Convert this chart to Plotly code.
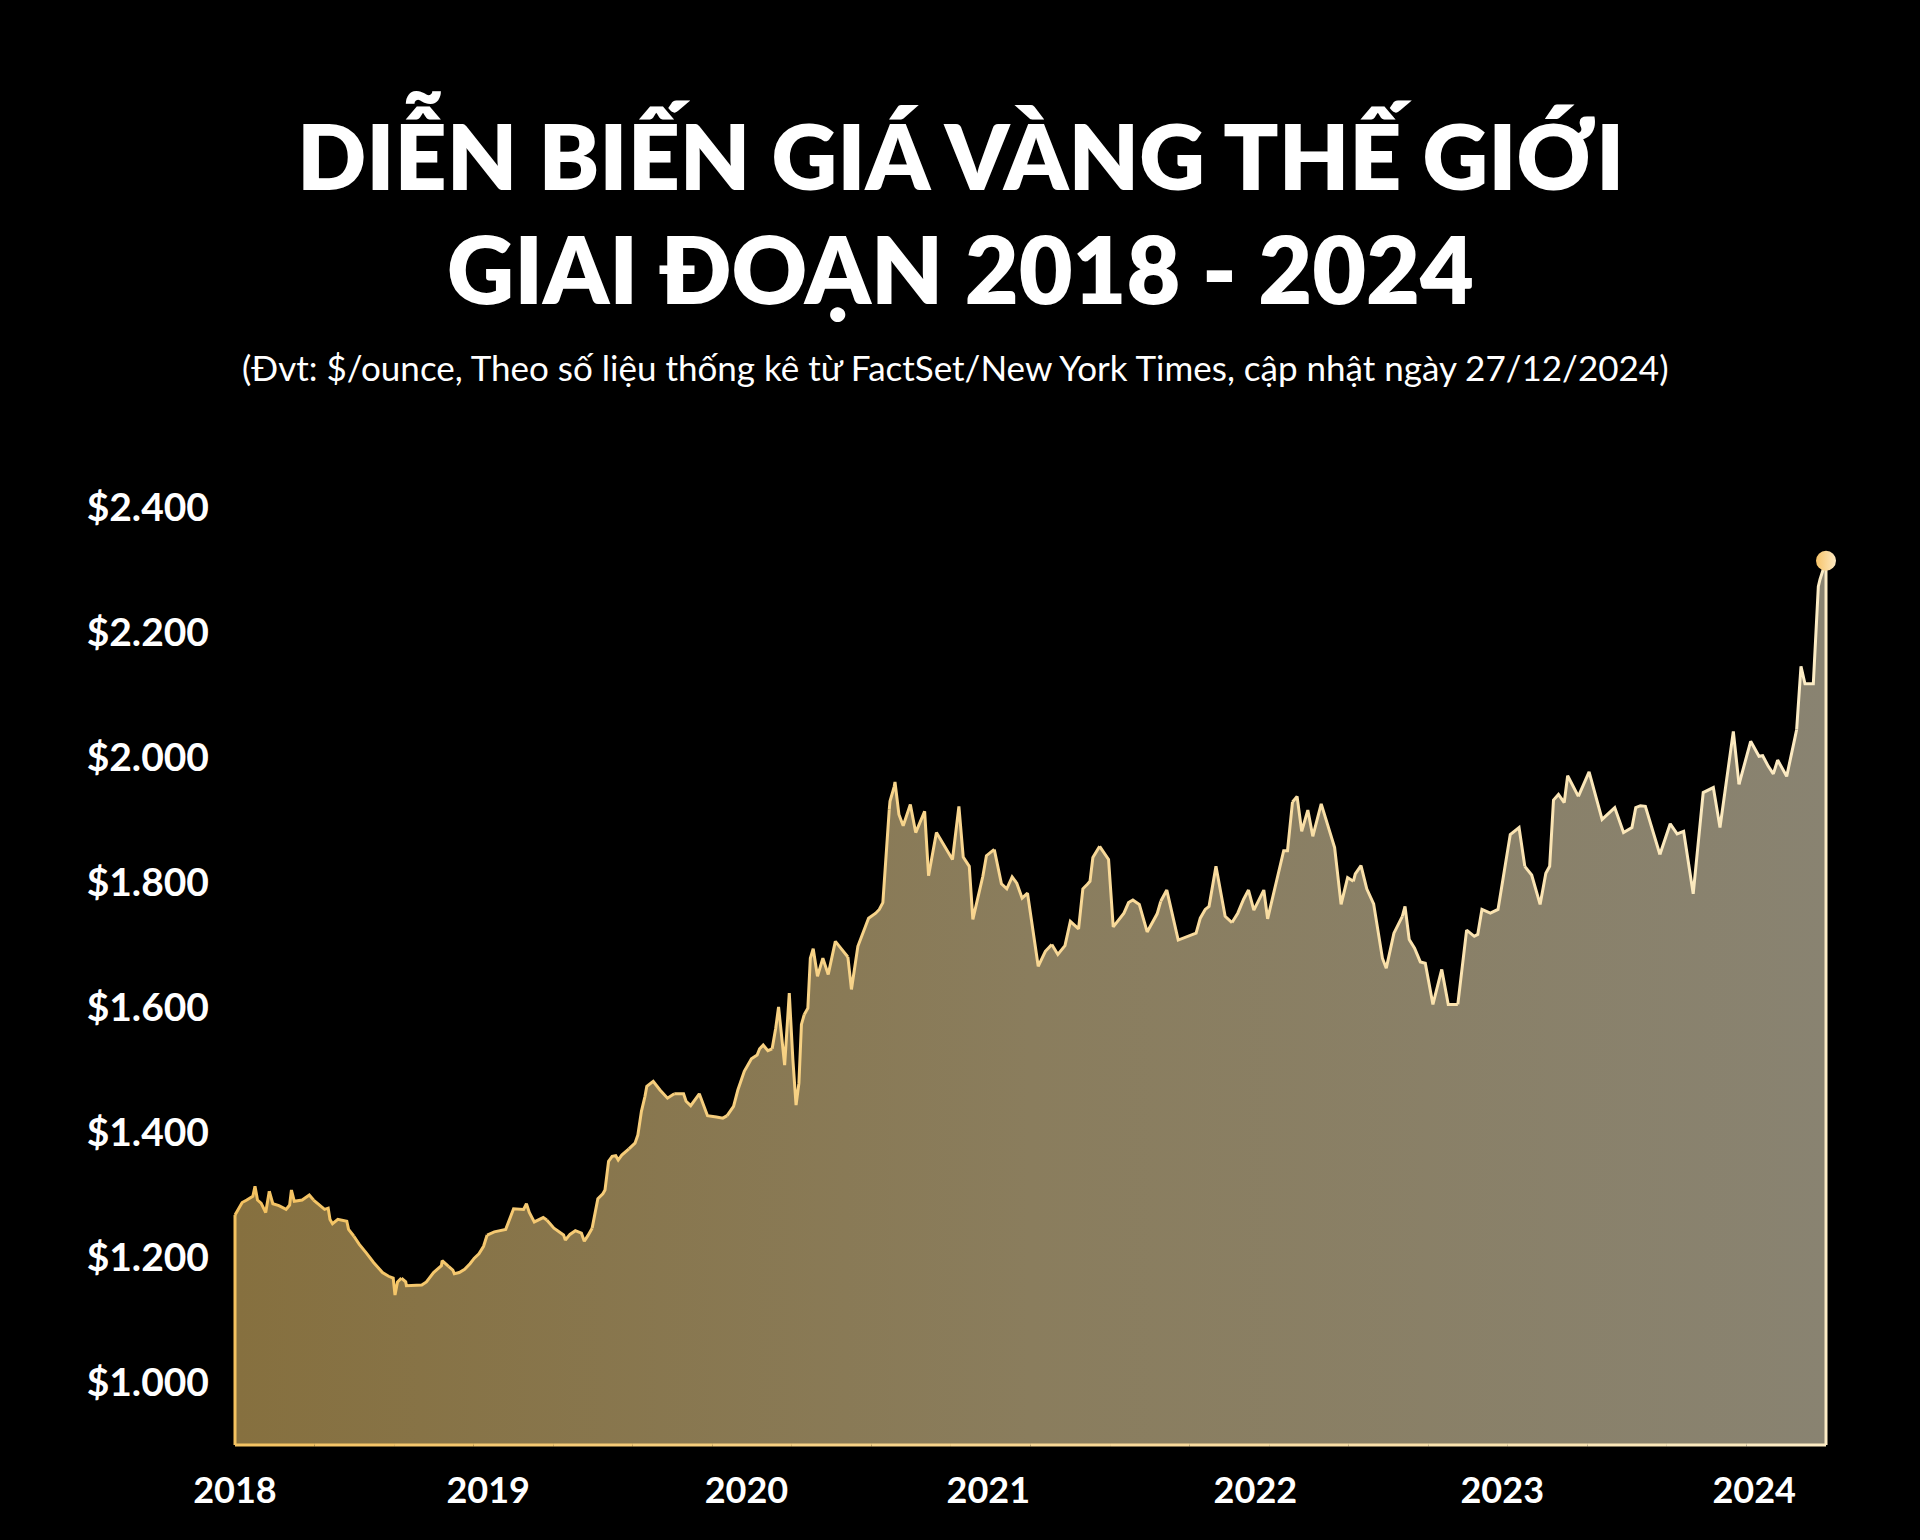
import plotly.graph_objects as go

# ---------------- data ----------------
years_since_2018 = [
    0.0000, 0.0113, 0.0282, 0.0466, 0.0705, 0.0790, 0.0889, 0.1030, 0.1213, 0.1354,
    0.1495, 0.1735, 0.2017, 0.2158, 0.2229, 0.2342, 0.2652, 0.2934, 0.3103, 0.3357,
    0.3540, 0.3681, 0.3752, 0.3851, 0.4062, 0.4415, 0.4485, 0.4697, 0.4909, 0.5191,
    0.5473, 0.5825, 0.6065, 0.6248, 0.6319, 0.6418, 0.6573, 0.6742, 0.6770, 0.7024,
    0.7377, 0.7560, 0.7842, 0.8153, 0.8181, 0.8435, 0.8604, 0.8661, 0.8858, 0.9069,
    0.9281, 0.9451, 0.9634, 0.9817, 0.9958, 1.0240, 1.0692, 1.1002, 1.1397, 1.1510,
    1.1623, 1.1820, 1.2173, 1.2314, 1.2596, 1.2977, 1.3047, 1.3230, 1.3442, 1.3682,
    1.3795, 1.3936, 1.4105, 1.4331, 1.4528, 1.4613, 1.4754, 1.4895, 1.5036, 1.5135,
    1.5276, 1.5558, 1.5798, 1.5911, 1.6052, 1.6193, 1.6264, 1.6517, 1.6785, 1.7081,
    1.7349, 1.7716, 1.7815, 1.7998, 1.8337, 1.8520, 1.8661, 1.9014, 1.9268, 1.9437,
    1.9691, 1.9860,
    2.0114, 2.0396, 2.0622, 2.0720, 2.0861, 2.1045, 2.1214, 2.1355, 2.1468, 2.1708,
    2.1891, 2.2032, 2.2159, 2.2272, 2.2371, 2.2484, 2.2625, 2.2723, 2.2836, 2.3005,
    2.3217, 2.3429, 2.3711, 2.3965, 2.4205, 2.4346, 2.4600, 2.4853, 2.5023, 2.5305,
    2.5446, 2.5587, 2.5699, 2.5840, 2.5869, 2.6038, 2.6066, 2.6221, 2.6390, 2.6672,
    2.6884, 2.7237, 2.7392, 2.7703, 2.8337, 2.8590, 2.8760, 2.9000, 2.9141, 2.9536,
    2.9677, 2.9988, 3.0270, 3.0481, 3.0693, 3.0876, 3.1088, 3.1300, 3.1722, 3.2005,
    3.2259, 3.2498, 3.2780, 3.2992, 3.3316, 3.3486, 3.3655, 3.3768, 3.3881, 3.4149,
    3.4501, 3.4685, 3.5108, 3.5291, 3.5461, 3.5715, 3.6025, 3.6420, 3.6561, 3.6801,
    3.7252, 3.7958,
    3.8123, 3.8319, 3.8470, 3.8743, 3.9105, 3.9377, 3.9604, 3.9831, 4.0027, 4.0239,
    4.0632, 4.0783, 4.1418, 4.1569, 4.1766, 4.1947, 4.2129, 4.2371, 4.2567, 4.2900,
    4.3429, 4.3685, 4.3942, 4.4169, 4.4245, 4.4471, 4.4698, 4.4970, 4.5227, 4.5317,
    4.5469, 4.5771, 4.6103, 4.6209, 4.6375, 4.6587, 4.6813, 4.7010, 4.7312, 4.7660,
    4.7917, 4.8295, 4.8642, 4.8945, 4.9081, 4.9247, 4.9580, 4.9882, 5.0366, 5.0713,
    5.0940, 5.1212, 5.1545, 5.1771, 5.1922, 5.2074, 5.2270, 5.2497, 5.2633, 5.3056,
    5.3479, 5.3993, 5.4492, 5.4840, 5.5172, 5.5323, 5.5505, 5.5702, 5.6276, 5.6684,
    5.6956, 5.7213, 5.7591,
    5.7986, 5.8386, 5.8649, 5.9176, 5.9400, 5.9861, 6.0190, 6.0335, 6.0558, 6.0756,
    6.0927, 6.1283, 6.1611, 6.1677, 6.1848, 6.2006, 6.2335, 6.2533, 6.2599, 6.2836,
]

price_usd = [
    1268, 1276, 1288, 1292, 1298, 1314, 1292, 1287, 1272, 1306,
    1286, 1283, 1277, 1284, 1308, 1290, 1292, 1300, 1292, 1283,
    1277, 1279, 1261, 1254, 1261, 1258, 1245, 1234, 1221, 1207,
    1192, 1176, 1170, 1167, 1140, 1161, 1167, 1161, 1155, 1155,
    1156, 1161, 1176, 1187, 1195, 1186, 1180, 1174, 1176, 1181,
    1190, 1199, 1206, 1218, 1236, 1241, 1245, 1278, 1277, 1286,
    1272, 1257, 1264, 1260, 1247, 1236, 1228, 1237, 1243, 1239,
    1226, 1235, 1247, 1294, 1302, 1308, 1354, 1362, 1363, 1356,
    1364, 1374, 1383, 1396, 1434, 1458, 1474, 1482, 1468, 1455,
    1462, 1462, 1450, 1443, 1462, 1442, 1427, 1425, 1423, 1427,
    1442, 1468,
    1498, 1518, 1524, 1534, 1540, 1531, 1534, 1567, 1601, 1508,
    1623, 1517, 1444, 1479, 1573, 1589, 1599, 1679, 1694, 1650,
    1679, 1653, 1706, 1693, 1681, 1629, 1698, 1725, 1743, 1751,
    1757, 1768, 1842, 1917, 1930, 1954, 1961, 1909, 1891, 1925,
    1880, 1914, 1811, 1880, 1837, 1922, 1841, 1826, 1741, 1810,
    1843, 1853, 1798, 1790, 1809, 1799, 1775, 1783, 1666, 1690,
    1701, 1685, 1699, 1738, 1726, 1790, 1797, 1802, 1840, 1858,
    1837, 1729, 1751, 1768, 1772, 1765, 1721, 1750, 1770, 1788,
    1708, 1719,
    1743, 1757, 1762, 1826, 1746, 1736, 1751, 1773, 1788, 1756,
    1788, 1742, 1851, 1851, 1929, 1938, 1882, 1916, 1874, 1926,
    1856, 1765, 1808, 1802, 1814, 1827, 1790, 1766, 1701, 1679,
    1663, 1719, 1746, 1762, 1709, 1695, 1673, 1671, 1605, 1661,
    1605, 1605, 1724, 1714, 1717, 1757, 1751, 1757, 1877, 1888,
    1826, 1812, 1765, 1815, 1826, 1932, 1941, 1928, 1971, 1938,
    1977, 1901, 1920, 1880, 1888, 1920, 1923, 1922, 1845, 1894,
    1878, 1882, 1782,
    1944, 1952, 1888, 2042, 1957, 2026, 2002, 2003, 1986, 1974,
    1996, 1970, 2032, 2045, 2146, 2118, 2118, 2274, 2285, 2315,
]

year_ticks = [2018, 2019, 2020, 2021, 2022, 2023, 2024]
year_tick_pos = [2018.0, 2019.0, 2020.02, 2020.975, 2022.03, 2023.005, 2024.0]
price_ticks = [1000, 1200, 1400, 1600, 1800, 2000, 2200, 2400]
price_tick_text = ["$1.000", "$1.200", "$1.400", "$1.600", "$1.800", "$2.000", "$2.200", "$2.400"]
baseline_price = 900

title_line1 = "DIỄN BIẾN GIÁ VÀNG THẾ GIỚI"
title_line2 = "GIAI ĐOẠN 2018 - 2024"
subtitle = "(Đvt: $/ounce, Theo số liệu thống kê từ FactSet/New York Times, cập nhật ngày 27/12/2024)"

# ---------------- figure ----------------
x = [2018 + t for t in years_since_2018]
y = price_usd
x0, xN = x[0], x[-1]

GOLD = (244, 194, 96)
CREAM = (252, 236, 198)


def mix(frac):
    frac = max(0.0, min(1.0, frac))
    r, g, b = (round(GOLD[i] + (CREAM[i] - GOLD[i]) * frac) for i in range(3))
    return f"rgb({r},{g},{b})"


fig = go.Figure()

# filled area (closed polygon down to the baseline)
fig.add_trace(go.Scatter(
    x=[x0] + x + [xN, x0],
    y=[baseline_price] + y + [baseline_price, baseline_price],
    mode="lines", fill="toself",
    line=dict(width=0),
    fillgradient=dict(type="horizontal",
                      colorscale=[[0, "#86703f"], [0.5, "#8a7d5d"], [1, "#898371"]]),
    hoverinfo="skip", showlegend=False,
))

# top outline with a colour gradient (split into segments)
n_seg = 30
n = len(x)
step = max(1, (n - 1) // n_seg)
i = 0
while i < n - 1:
    j = min(n - 1, i + step)
    mid = (x[i] + x[j]) / 2
    fig.add_trace(go.Scatter(
        x=x[i:j + 1], y=y[i:j + 1], mode="lines",
        line=dict(color=mix((mid - x0) / (xN - x0)), width=3),
        hoverinfo="skip", showlegend=False,
    ))
    i = j

# left / right vertical edges
fig.add_trace(go.Scatter(x=[x0, x0], y=[baseline_price, y[0]], mode="lines",
                         line=dict(color=mix(0), width=3), hoverinfo="skip", showlegend=False))
fig.add_trace(go.Scatter(x=[xN, xN], y=[y[-1], baseline_price], mode="lines",
                         line=dict(color=mix(1), width=3), hoverinfo="skip", showlegend=False))

# bottom edge with gradient
nb = 20
for k in range(nb):
    xa = x0 + (xN - x0) * k / nb
    xb = x0 + (xN - x0) * (k + 1) / nb
    fig.add_trace(go.Scatter(x=[xa, xb], y=[baseline_price, baseline_price], mode="lines",
                             line=dict(color=mix((k + 0.5) / nb), width=3),
                             hoverinfo="skip", showlegend=False))

# end dot
fig.add_trace(go.Scatter(
    x=[xN], y=[y[-1]], mode="markers", cliponaxis=False,
    marker=dict(size=20, color="#f7c46a",
                gradient=dict(type="horizontal", color="#fde9c2"),
                line=dict(width=0)),
    hoverinfo="skip", showlegend=False,
))

# layout
L, R, T, B = 230, 89, 442, 90
W, H = 1920, 1540
plot_w = W - L - R
plot_h = H - T - B
px_per_year = (1826 - 235) / (xN - x0)
pad = 5 / px_per_year
xr = [x0 - pad, xN + pad]
yr = [892, 2505]


def paper_x(px):
    return (px - L) / plot_w


def paper_y(py):
    return (H - B - py) / plot_h


fig.update_layout(
    width=W, height=H,
    paper_bgcolor="#000000", plot_bgcolor="#000000",
    margin=dict(l=L, r=R, t=T, b=B, pad=0),
    showlegend=False,
    xaxis=dict(range=xr, showgrid=False, zeroline=False, showline=False,
               tickmode="array", tickvals=year_tick_pos, ticktext=[str(v) for v in year_ticks],
               ticks="", ticklabelstandoff=16,
               tickfont=dict(family="Lato", size=36, color="#ffffff", weight=700)),
    yaxis=dict(range=yr, showgrid=False, zeroline=False, showline=False,
               tickmode="array", tickvals=price_ticks, ticktext=price_tick_text,
               ticks="", ticklabelstandoff=20,
               tickfont=dict(family="Lato", size=39, color="#ffffff", weight=700)),
    annotations=[
        dict(text=title_line1, xref="paper", yref="paper", x=paper_x(960), y=paper_y(150),
             xanchor="center", yanchor="middle", showarrow=False,
             font=dict(family="Lato", size=91, color="#ffffff", weight=800)),
        dict(text=title_line2, xref="paper", yref="paper", x=paper_x(960), y=paper_y(268),
             xanchor="center", yanchor="middle", showarrow=False,
             font=dict(family="Lato", size=93, color="#ffffff", weight=800)),
        dict(text=subtitle, xref="paper", yref="paper", x=paper_x(955), y=paper_y(367),
             xanchor="center", yanchor="middle", showarrow=False,
             font=dict(family="Lato", size=35, color="#ffffff", weight=400)),
    ],
)

fig.write_html("out.html")
